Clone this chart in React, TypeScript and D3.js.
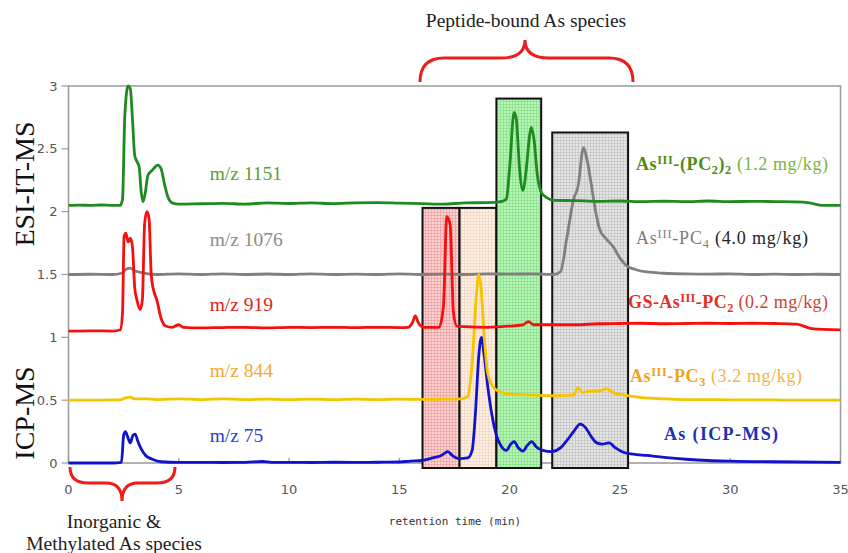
import React from "react";
import * as d3 from "d3";

// Retention time (min) / signal pairs for each trace (stacked offsets included)
const mz1151: [number, number][] = [
  [0, 2.05], [0.5, 2.052], [1, 2.05], [1.5, 2.053], [2, 2.05], [2.35, 2.05], [2.45, 2.1], [2.55, 2.75],
  [2.7, 3.0], [2.8, 2.98], [2.9, 2.74], [3.0, 2.45], [3.1, 2.4], [3.2, 2.36], [3.3, 2.15], [3.38, 2.08],
  [3.48, 2.15], [3.6, 2.29], [3.8, 2.33], [4.05, 2.37], [4.2, 2.34], [4.35, 2.22], [4.5, 2.12], [4.7, 2.07],
  [5, 2.06], [6, 2.063], [7, 2.066], [8, 2.06], [9, 2.07], [10, 2.065], [11, 2.07], [12, 2.064], [13, 2.07],
  [14, 2.072], [15, 2.068], [16, 2.064], [17, 2.06], [18, 2.07], [19, 2.072], [19.6, 2.08], [19.85, 2.1],
  [20.0, 2.35], [20.2, 2.79], [20.3, 2.74], [20.45, 2.34], [20.6, 2.17], [20.75, 2.33], [20.9, 2.6],
  [20.98, 2.67], [21.1, 2.58], [21.25, 2.3], [21.45, 2.15], [21.7, 2.11], [22, 2.09], [23, 2.088],
  [24, 2.082], [25, 2.085], [26, 2.08], [27, 2.083], [28, 2.08], [29, 2.085], [30, 2.08], [31, 2.082],
  [32, 2.08], [33, 2.078], [33.6, 2.07], [34.2, 2.05], [35, 2.05],
];

const mz1076: [number, number][] = [
  [0, 1.5], [1, 1.502], [2, 1.5], [2.4, 1.51], [2.6, 1.54], [2.8, 1.55], [3.0, 1.53], [3.2, 1.52],
  [3.4, 1.51], [4, 1.5], [5, 1.505], [6, 1.5], [7, 1.505], [8, 1.5], [9, 1.504], [10, 1.5], [11, 1.505],
  [12, 1.5], [13, 1.503], [14, 1.5], [15, 1.505], [16, 1.5], [17, 1.503], [18, 1.5], [19, 1.505],
  [20, 1.503], [21, 1.505], [22, 1.5], [22.3, 1.52], [22.6, 1.8], [22.9, 2.1], [23.1, 2.2], [23.35, 2.51],
  [23.5, 2.42], [23.7, 2.22], [23.9, 2.0], [24.1, 1.85], [24.4, 1.78], [24.7, 1.72], [25.0, 1.63],
  [25.3, 1.57], [25.7, 1.54], [26.2, 1.52], [27, 1.51], [28, 1.505], [29, 1.503], [30, 1.505],
  [31, 1.5], [32, 1.503], [33, 1.5], [34, 1.502], [35, 1.5],
];

const mz919: [number, number][] = [
  [0, 1.05], [1, 1.052], [2, 1.05], [2.35, 1.06], [2.45, 1.2], [2.52, 1.8], [2.6, 1.83], [2.7, 1.76],
  [2.8, 1.79], [2.9, 1.72], [3.0, 1.4], [3.1, 1.3], [3.25, 1.22], [3.35, 1.3], [3.45, 1.9], [3.55, 2.0],
  [3.65, 1.95], [3.75, 1.5], [3.85, 1.38], [4.0, 1.3], [4.2, 1.15], [4.4, 1.09], [4.7, 1.08], [5.0, 1.1],
  [5.2, 1.08], [6, 1.075], [7, 1.078], [8, 1.08], [9, 1.076], [10, 1.08], [11, 1.078], [12, 1.08],
  [13, 1.077], [14, 1.08], [15, 1.078], [15.4, 1.08], [15.6, 1.12], [15.72, 1.17], [15.85, 1.12],
  [16.1, 1.08], [16.8, 1.08], [17.0, 1.25], [17.15, 1.96], [17.3, 1.9], [17.45, 1.2], [17.6, 1.09],
  [18, 1.085], [19, 1.08], [20, 1.09], [20.6, 1.1], [20.85, 1.125], [21.1, 1.1], [22, 1.1], [23, 1.1],
  [24, 1.108], [25, 1.11], [26, 1.112], [27, 1.108], [28, 1.11], [29, 1.112], [30, 1.11], [31, 1.112],
  [32, 1.11], [33, 1.105], [33.7, 1.07], [35, 1.06],
];

const mz844: [number, number][] = [
  [0, 0.5], [1, 0.5], [2, 0.502], [2.4, 0.505], [2.6, 0.52], [2.8, 0.525], [3.0, 0.51], [3.5, 0.51],
  [4, 0.505], [5, 0.51], [6, 0.505], [7, 0.51], [8, 0.505], [9, 0.508], [10, 0.505], [11, 0.508],
  [12, 0.505], [13, 0.508], [14, 0.505], [15, 0.508], [16, 0.506], [17, 0.508], [17.8, 0.51],
  [18.1, 0.53], [18.3, 0.8], [18.5, 1.35], [18.6, 1.5], [18.7, 1.4], [18.85, 1.0], [19.0, 0.72],
  [19.2, 0.62], [19.5, 0.57], [20, 0.55], [21, 0.54], [22, 0.535], [22.9, 0.54], [23.1, 0.6],
  [23.3, 0.56], [23.6, 0.57], [24.0, 0.57], [24.4, 0.59], [24.7, 0.56], [25.2, 0.54], [26, 0.52],
  [27, 0.51], [28, 0.505], [29, 0.505], [30, 0.503], [31, 0.503], [32, 0.502], [33, 0.5], [34, 0.5],
  [35, 0.5],
];

const mz75: [number, number][] = [
  [0, 0], [1, 0], [2, 0], [2.4, 0.005], [2.5, 0.22], [2.58, 0.25], [2.68, 0.21], [2.8, 0.16],
  [2.92, 0.22], [3.02, 0.23], [3.15, 0.17], [3.3, 0.11], [3.5, 0.06], [3.8, 0.03], [4.2, 0.01],
  [5, 0.005], [6, 0.005], [7, 0.004], [8, 0.005], [8.8, 0.012], [9.2, 0.005], [10, 0.005], [11, 0.004],
  [12, 0.006], [13, 0.005], [14, 0.006], [15, 0.008], [15.5, 0.015], [16, 0.02], [16.5, 0.04],
  [16.9, 0.06], [17.2, 0.09], [17.4, 0.06], [17.7, 0.035], [18.1, 0.04], [18.3, 0.1], [18.45, 0.4],
  [18.6, 0.85], [18.72, 1.0], [18.85, 0.85], [19.0, 0.62], [19.2, 0.38], [19.4, 0.22], [19.6, 0.14],
  [19.85, 0.1], [20.05, 0.15], [20.2, 0.17], [20.4, 0.12], [20.6, 0.095], [20.8, 0.14], [21.0, 0.17],
  [21.2, 0.13], [21.5, 0.1], [21.9, 0.09], [22.3, 0.12], [22.6, 0.18], [22.9, 0.25], [23.2, 0.31],
  [23.45, 0.28], [23.7, 0.21], [23.95, 0.16], [24.2, 0.15], [24.5, 0.16], [24.8, 0.12], [25.1, 0.09],
  [25.6, 0.07], [26.2, 0.06], [27, 0.045], [28, 0.03], [29, 0.02], [30, 0.015], [32, 0.01], [35, 0.005],
];

// Retention windows highlighted for each peptide-bound species
const windowStart = [16.05, 17.73, 19.4, 21.93];
const windowEnd = [17.73, 19.4, 21.43, 25.37];
const windowTop = [2.03, 2.03, 2.9, 2.63];
const windowBottom = -0.04;

const xTicks = [0, 5, 10, 15, 20, 25, 30, 35];
const yTicks = [0, 0.5, 1, 1.5, 2, 2.5, 3];

const traceNames = ["m/z 1151", "m/z 1076", "m/z 919", "m/z 844", "m/z 75"];
const traceLabelY = [2.3, 1.78, 1.26, 0.74, 0.22];

const W = 848;
const H = 553;
const serif = "'Liberation Serif', 'DejaVu Serif', serif";

const x = d3.scaleLinear().domain([0, 35]).range([68.5, 840.5]);
const y = d3.scaleLinear().domain([0, 3]).range([463, 86]);

const line = d3
  .line<[number, number]>()
  .x((d) => x(d[0]))
  .y((d) => y(d[1]))
  .curve(d3.curveMonotoneX);

const traces = [
  { data: mz1076, color: "#808080" },
  { data: mz75, color: "#1212cc" },
  { data: mz844, color: "#f5c400" },
  { data: mz919, color: "#f50f0f" },
  { data: mz1151, color: "#1f8a1f" },
];

const traceLabelColors = ["#5c9e34", "#8c8c8c", "#e32222", "#f2a833", "#2b3fd2"];

const windowFills = [
  { id: "gridRed", base: "#fbd3d3", grid: "#ee9b9b" },
  { id: "gridPeach", base: "#fdf0e4", grid: "#f3d6c0" },
  { id: "gridGreen", base: "#b8f5b8", grid: "#86dc86" },
  { id: "gridGray", base: "#e6e6e6", grid: "#c2c2c2" },
];

function Sup({ children }: { children: string }) {
  return (
    <tspan dy={-6} fontSize="0.68em">
      {children}
    </tspan>
  );
}

export default function App() {
  const plotLeft = x(0);
  const plotRight = x(35);
  const plotTop = y(3);
  const plotBottom = y(0);

  return (
    <svg
      width={W}
      height={H}
      viewBox={`0 0 ${W} ${H}`}
      style={{ position: "absolute", left: 0, top: 0, background: "#fff" }}
    >
      <defs>
        {windowFills.map((f) => (
          <pattern key={f.id} id={f.id} width={3} height={3} patternUnits="userSpaceOnUse">
            <rect width={3} height={3} fill={f.base} />
            <path d="M2.5 0 V3 M0 2.5 H3" stroke={f.grid} strokeWidth={0.7} />
          </pattern>
        ))}
      </defs>

      {/* frame */}
      <rect x={plotLeft} y={plotTop} width={plotRight - plotLeft} height={plotBottom - plotTop}
        fill="none" stroke="#999" strokeWidth={1.5} />

      {/* y axis ticks */}
      {yTicks.map((t) => (
        <g key={"y" + t}>
          <line x1={plotLeft - 7} x2={plotLeft} y1={y(t)} y2={y(t)} stroke="#999" strokeWidth={1.2} />
          <text x={plotLeft - 11} y={y(t) + 4.5} textAnchor="end" fontSize={13}
            fontFamily="'DejaVu Sans', sans-serif" fill="#555">
            {d3.format("~g")(t)}
          </text>
        </g>
      ))}

      {/* x axis ticks */}
      {xTicks.map((t) => (
        <g key={"x" + t}>
          <line x1={x(t)} x2={x(t)} y1={plotBottom} y2={plotBottom - 5} stroke="#999" strokeWidth={1.2} />
          <text x={x(t)} y={494} textAnchor="middle" fontSize={13}
            fontFamily="'DejaVu Sans', sans-serif" fill="#555">
            {t}
          </text>
        </g>
      ))}

      {/* highlighted retention windows */}
      {windowStart.map((s, i) => (
        <rect key={"w" + i} x={x(s)} y={y(windowTop[i])} width={x(windowEnd[i]) - x(s)}
          height={y(windowBottom) - y(windowTop[i])} fill={`url(#${windowFills[i].id})`}
          stroke="#111" strokeWidth={2} />
      ))}

      {/* chromatograms */}
      {traces.map((tr, i) => (
        <path key={"t" + i} d={line(tr.data) ?? ""} fill="none" stroke={tr.color}
          strokeWidth={2.8} strokeLinejoin="round" />
      ))}

      {/* trace labels */}
      {traceNames.map((n, i) => (
        <text key={n} x={x(6.4)} y={y(traceLabelY[i]) + 6.5} fontSize={19.5} fontFamily={serif}
          fill={traceLabelColors[i]}>
          {n}
        </text>
      ))}

      {/* species labels */}
      <text x={636} y={170} fontSize={18} fontFamily={serif} textLength={192}>
        <tspan fontWeight="bold" fill="#4f8c14">As<Sup>III</Sup><tspan dy={6}>-(PC</tspan>
          <tspan dy={4} fontSize="0.68em">2</tspan><tspan dy={-4}>)</tspan>
          <tspan dy={4} fontSize="0.68em">2</tspan></tspan>
        <tspan dy={-4} fill="#7cb342"> (1.2 mg/kg)</tspan>
      </text>
      <text x={636} y={244} fontSize={18} fontFamily={serif} textLength={172}>
        <tspan fill="#7d7d7d">As<Sup>III</Sup><tspan dy={6}>-PC</tspan>
          <tspan dy={4} fontSize="0.68em">4</tspan></tspan>
        <tspan dy={-4} fill="#222"> (4.0 mg/kg)</tspan>
      </text>
      <text x={628} y={308} fontSize={18} fontFamily={serif} textLength={200}>
        <tspan fontWeight="bold" fill="#e3301f">GS-As<Sup>III</Sup><tspan dy={6}>-PC</tspan>
          <tspan dy={4} fontSize="0.68em">2</tspan></tspan>
        <tspan dy={-4} fill="#d6402f"> (0.2 mg/kg)</tspan>
      </text>
      <text x={630} y={382} fontSize={18} fontFamily={serif} textLength={172}>
        <tspan fontWeight="bold" fill="#f0a21c">As<Sup>III</Sup><tspan dy={6}>-PC</tspan>
          <tspan dy={4} fontSize="0.68em">3</tspan></tspan>
        <tspan dy={-4} fill="#f2b447"> (3.2 mg/kg)</tspan>
      </text>
      <text x={664} y={440} fontSize={18} fontFamily={serif} fontWeight="bold" fill="#1c30b4"
        textLength={114}>
        As (ICP-MS)
      </text>

      {/* detector titles */}
      <text transform={`translate(34,${184}) rotate(-90)`} textAnchor="middle" fontSize={28}
        fontFamily={serif} fill="#111">
        ESI-IT-MS
      </text>
      <text transform={`translate(34,${413}) rotate(-90)`} textAnchor="middle" fontSize={28}
        fontFamily={serif} fill="#111">
        ICP-MS
      </text>

      {/* x axis title */}
      <text x={455} y={525} textAnchor="middle" fontSize={11}
        fontFamily="'DejaVu Sans Mono', monospace" fill="#333">
        retention time (min)
      </text>

      {/* group braces */}
      <path d="M420,82 Q420,58 444,58 L501,58 Q525,58 525,40 Q525,58 549,58 L609,58 Q633,58 633,82"
        fill="none" stroke="#ee1c1c" strokeWidth={3} />
      <text x={526} y={27} textAnchor="middle" fontSize={19.5} fontFamily={serif} fill="#222">
        Peptide-bound As species
      </text>
      <path d="M70,467 Q70,483 88,483 L106,483 Q122,483 122,501 Q122,483 138,483 L157,483 Q175,483 175,467"
        fill="none" stroke="#ee1c1c" strokeWidth={3} />
      <text x={114} y={528} textAnchor="middle" fontSize={19.5} fontFamily={serif} fill="#222">
        Inorganic &amp;
      </text>
      <text x={114} y={550} textAnchor="middle" fontSize={19.5} fontFamily={serif} fill="#222">
        Methylated As species
      </text>
    </svg>
  );
}
